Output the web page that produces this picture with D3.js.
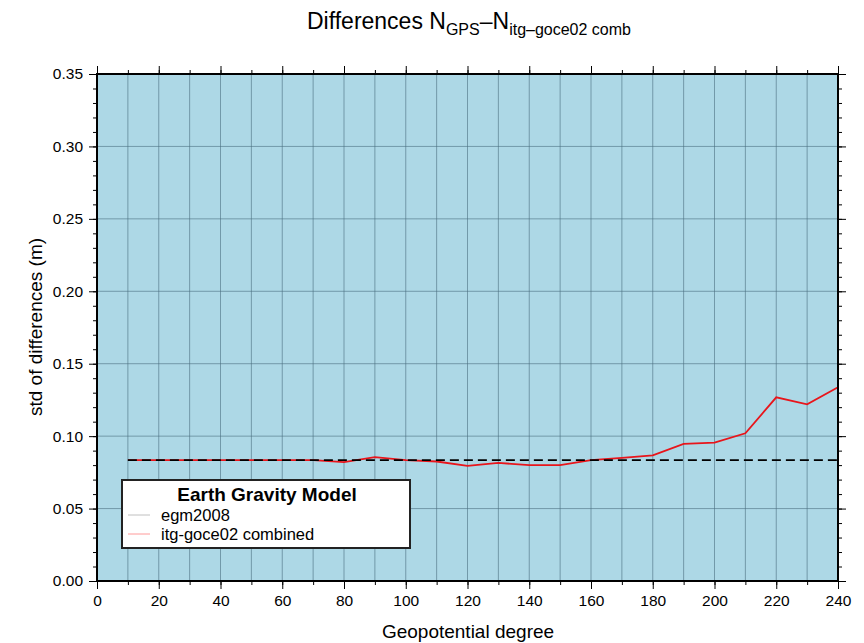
<!DOCTYPE html>
<html><head><meta charset="utf-8">
<script src="https://cdn.jsdelivr.net/npm/d3@7"></script>
<style>body{margin:0;background:#fff;}svg{display:block;font-family:"Liberation Sans",Arial,sans-serif;}</style>
</head><body>
<svg id="c" width="864" height="643"></svg>
<script>
const degrees = [10,20,30,40,50,60,70,80,90,100,110,120,130,140,150,160,170,180,190,200,210,220,230,240];
const goceValues = [0.0835,0.0835,0.0835,0.0835,0.0835,0.0835,0.0835,0.082,0.0855,0.0835,0.0825,0.0795,0.0815,0.080,0.080,0.0835,0.085,0.0867,0.0946,0.0955,0.102,0.1268,0.122,0.1337];
const egmValue = 0.0835;
const xTicks = [0,20,40,60,80,100,120,140,160,180,200,220,240];
const yTicks = [0.00,0.05,0.10,0.15,0.20,0.25,0.30,0.35];
const legendLabels = ["egm2008","itg-goce02 combined"];

const svg = d3.select("#c");
const L=97, R=838, T=74, B=581;
const x = d3.scaleLinear().domain([0,240]).range([L,R]);
const y = d3.scaleLinear().domain([0,0.35]).range([B,T]);

svg.append("rect").attr("x",L).attr("y",T).attr("width",R-L).attr("height",B-T).attr("fill","#add8e6");

// grid
const g = svg.append("g").attr("stroke","#4a6f80").attr("stroke-opacity",0.75).attr("stroke-width",0.8);
d3.range(10,240,10).forEach(v=>g.append("line").attr("x1",x(v)).attr("x2",x(v)).attr("y1",T).attr("y2",B));
yTicks.slice(1,-1).forEach(v=>g.append("line").attr("x1",L).attr("x2",R).attr("y1",y(v)).attr("y2",y(v)));

// axes
const fmt = d3.format(".2f");
const minorX = d3.range(0,241,10), minorY = d3.range(0,0.351,0.01);
function addAxis(axis, tr){ const a=svg.append("g").attr("transform",tr).call(axis); a.select(".domain").remove(); a.selectAll("line").attr("stroke","#000").attr("stroke-width",1); return a;}
addAxis(d3.axisBottom(x).tickValues(minorX).tickSize(4).tickFormat(""),`translate(0,${B})`);
addAxis(d3.axisTop(x).tickValues(minorX).tickSize(4).tickFormat(""),`translate(0,${T})`);
addAxis(d3.axisLeft(y).tickValues(minorY).tickSize(4).tickFormat(""),`translate(${L},0)`);
addAxis(d3.axisRight(y).tickValues(minorY).tickSize(4).tickFormat(""),`translate(${R},0)`);
const xb = addAxis(d3.axisBottom(x).tickValues(xTicks).tickSize(8).tickPadding(6).tickFormat(d3.format("d")),`translate(0,${B})`);
addAxis(d3.axisTop(x).tickValues(xTicks).tickSize(8).tickFormat(""),`translate(0,${T})`);
const yl = addAxis(d3.axisLeft(y).tickValues(yTicks).tickSize(8).tickPadding(6).tickFormat(fmt),`translate(${L},0)`);
addAxis(d3.axisRight(y).tickValues(yTicks).tickSize(8).tickFormat(""),`translate(${R},0)`);
xb.selectAll("text").attr("font-size",15.5).attr("fill","#000").attr("font-family","Liberation Sans, Arial, sans-serif");
yl.selectAll("text").attr("font-size",15.5).attr("fill","#000").attr("font-family","Liberation Sans, Arial, sans-serif");

// lines
const line = d3.line().x((d,i)=>x(degrees[i])).y(d=>y(d));
svg.append("path").datum(goceValues).attr("d",line).attr("fill","none").attr("stroke","#e8151b").attr("stroke-width",1.8);
svg.append("line").attr("x1",x(degrees[0])).attr("x2",x(degrees[degrees.length-1])).attr("y1",y(egmValue)).attr("y2",y(egmValue))
  .attr("stroke","#000").attr("stroke-width",1.8).attr("stroke-dasharray","9,5");

// frame
svg.append("rect").attr("x",L).attr("y",T).attr("width",R-L).attr("height",B-T).attr("fill","none").attr("stroke","#000").attr("stroke-width",2);

// legend
const lg = svg.append("g");
lg.append("rect").attr("x",122).attr("y",480).attr("width",288).attr("height",68).attr("fill","#fff").attr("stroke","#222").attr("stroke-width",2);
lg.append("text").attr("x",267).attr("y",501).attr("text-anchor","middle").attr("font-size",19).attr("font-weight","bold").text("Earth Gravity Model");
const legColors = ["#b0b0b0","#ff8080"];
legendLabels.forEach((t,i)=>{
  const yy = 515 + i*19;
  lg.append("line").attr("x1",128).attr("x2",150).attr("y1",yy).attr("y2",yy).attr("stroke",legColors[i]).attr("stroke-width",0.8);
  lg.append("text").attr("x",161).attr("y",yy+5.5).attr("font-size",16.5).text(t);
});

// titles
const tt = svg.append("text").attr("x",469).attr("y",29).attr("text-anchor","middle").attr("font-size",23);
tt.append("tspan").text("Differences N");
tt.append("tspan").attr("font-size",16).attr("dy",6).text("GPS");
tt.append("tspan").attr("dy",-6).text("\u2013N");
tt.append("tspan").attr("font-size",16).attr("dy",6).text("itg\u2013goce02 comb");
svg.append("text").attr("x",468).attr("y",638).attr("text-anchor","middle").attr("font-size",19).text("Geopotential degree");
svg.append("text").attr("transform","translate(42,327) rotate(-90)").attr("text-anchor","middle").attr("font-size",19).text("std of differences (m)");
</script>
</body></html>
